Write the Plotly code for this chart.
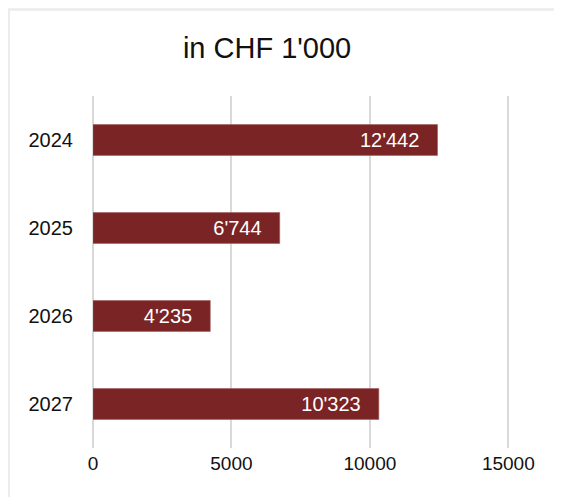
import plotly.graph_objects as go

years = ["2024", "2025", "2026", "2027"]
values = [12442, 6744, 4235, 10323]
x_ticks = [0, 5000, 10000, 15000]

bar_color = "#7a2425"
grid_color = "#d9d9d9"

fig = go.Figure()
fig.add_trace(go.Bar(
    y=years, x=values, orientation="h",
    marker=dict(color=bar_color, line=dict(color="#a05a5b", width=0.6)),
    width=0.35,
    texttemplate="%{x:,}\u00a0\u00a0\u2009",
    textposition="inside", insidetextanchor="end",
    textfont=dict(color="white", size=20, family="Liberation Sans, Arial"),
    cliponaxis=False,
))

fig.update_layout(
    width=562, height=497,
    margin=dict(l=85, r=34, t=88, b=57),
    paper_bgcolor="white", plot_bgcolor="white",
    separators=".'",
    font=dict(family="Liberation Sans, Arial", size=20, color="#111111"),
    title=dict(text="in CHF 1'000", x=0.461, xanchor="center", y=0.9195, yanchor="middle",
               font=dict(size=29, color="#111111")),
    showlegend=False,
    xaxis=dict(range=[0, 16000], tickvals=x_ticks, tickformat="d",
               showgrid=True, gridcolor=grid_color, gridwidth=2,
               zeroline=True, zerolinecolor=grid_color, zerolinewidth=2,
               showline=False, ticks="", ticklabelstandoff=2,
               tickfont=dict(size=19)),
    yaxis=dict(autorange="reversed", showgrid=False, showline=False,
               ticks="", ticklabelstandoff=19, tickfont=dict(size=20)),
    shapes=[dict(type="rect", xref="paper", yref="paper",
                 x0=-0.19, x1=1.3, y0=-0.3, y1=1.2457,
                 line=dict(color="#ececec", width=2.5), layer="below")],
)

fig.write_html("out.html")
